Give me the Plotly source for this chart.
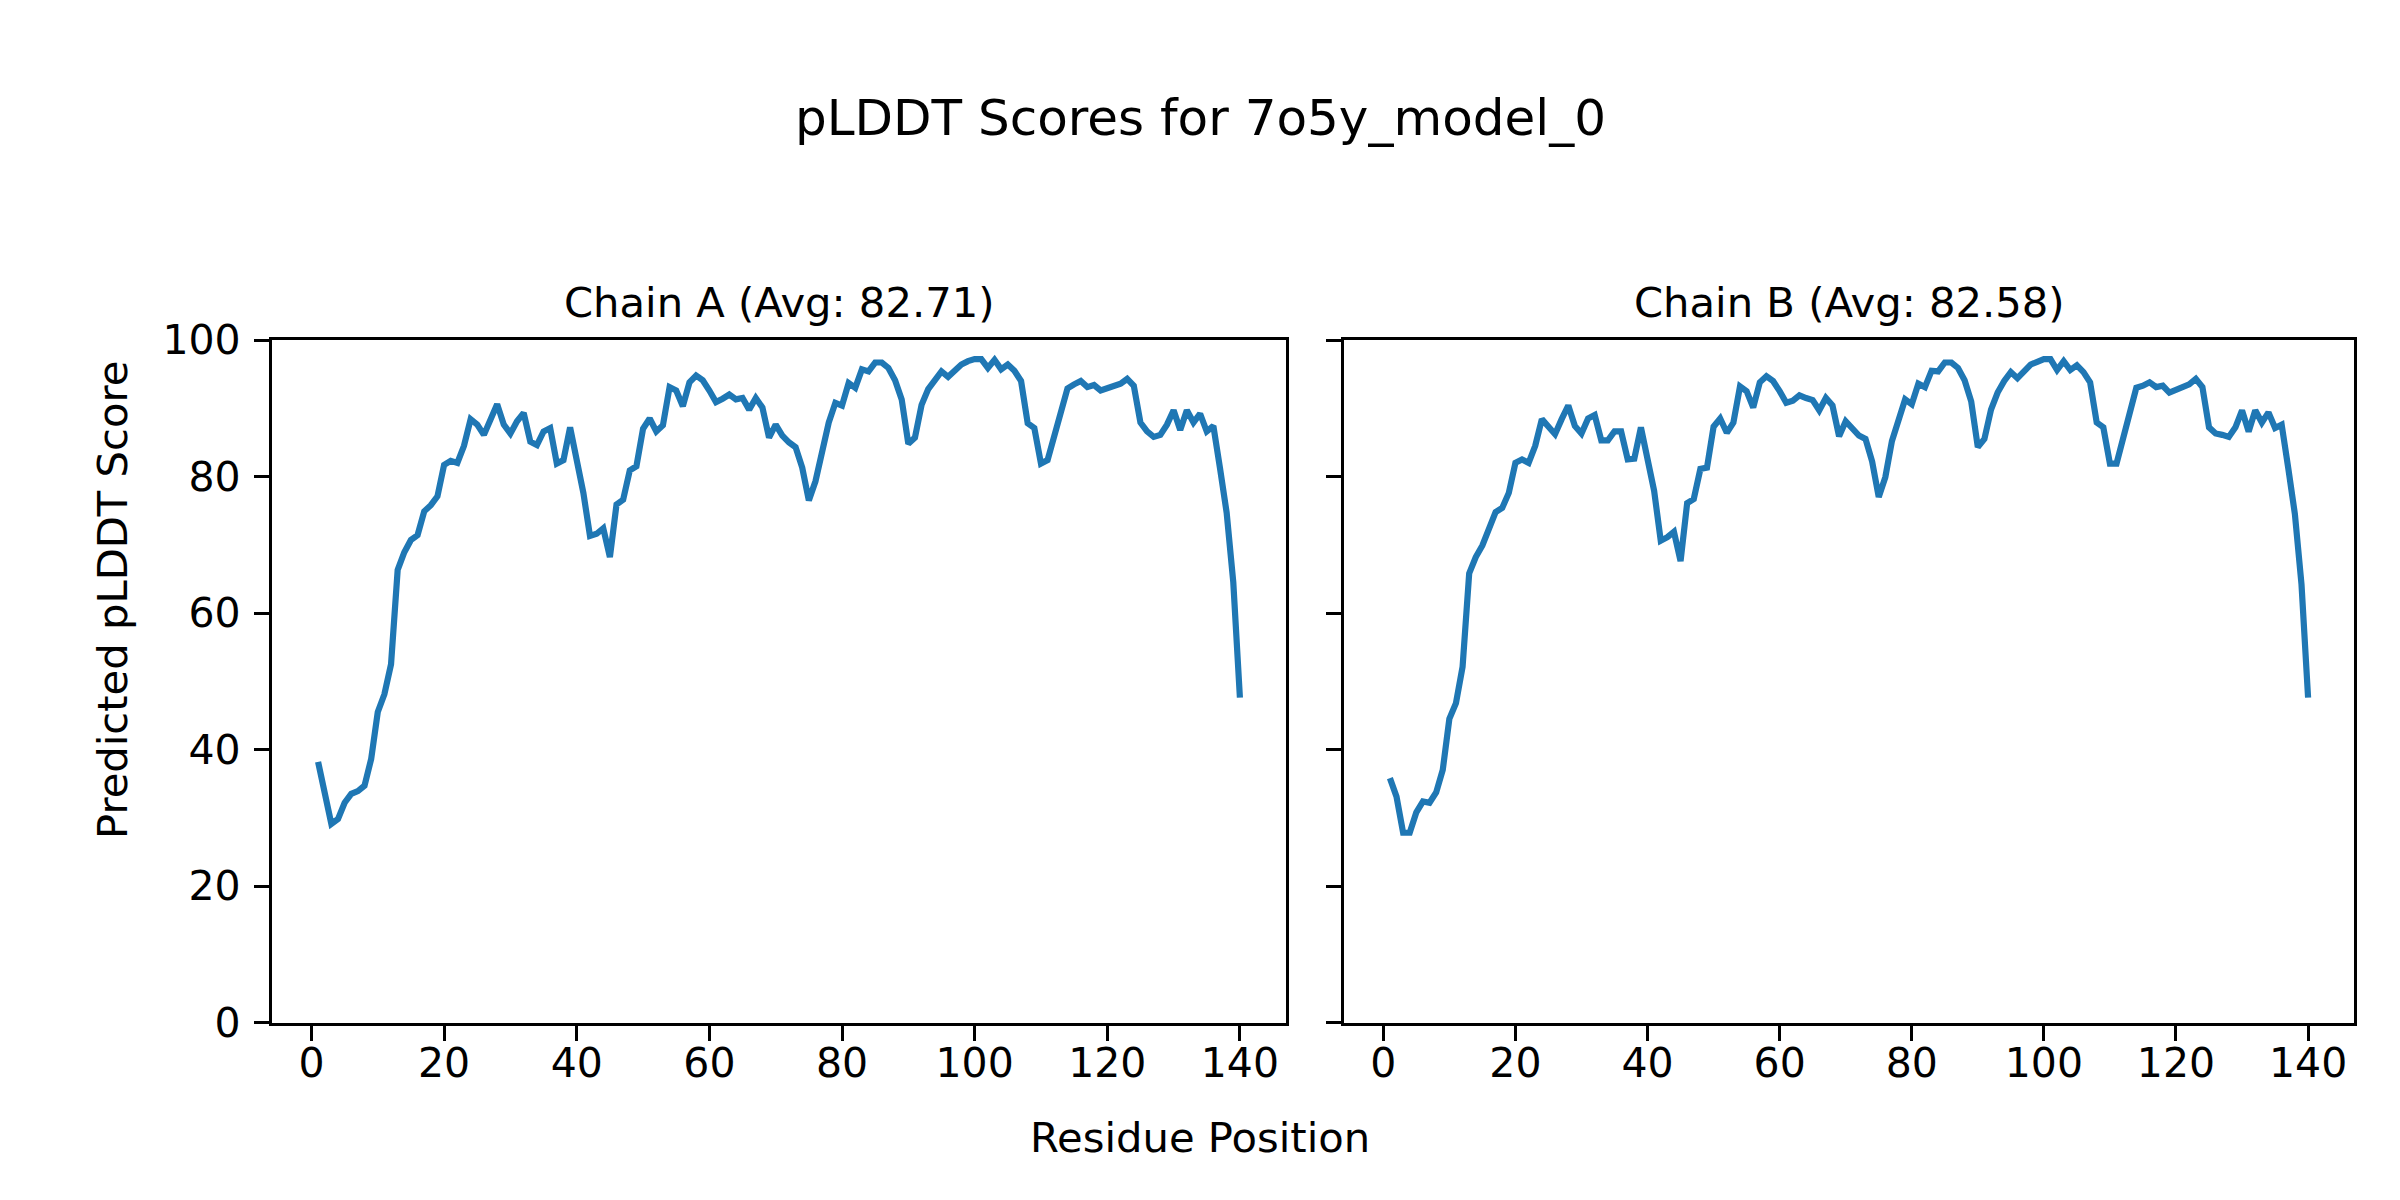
import plotly.graph_objects as go

residues = list(range(1, 141))

chain_a = [38.2, 34.0, 29.1, 29.8, 32.2, 33.5, 33.9, 34.7, 38.6, 45.5,
           48.1, 52.5, 66.3, 68.9, 70.7, 71.4, 74.9, 75.8, 77.1, 81.7,
           82.3, 82.0, 84.5, 88.4, 87.6, 86.1, 88.4, 90.6, 87.6, 86.3,
           88.1, 89.3, 85.1, 84.6, 86.6, 87.1, 81.9, 82.4, 87.2, 82.5,
           77.6, 71.3, 71.6, 72.4, 68.2, 75.9, 76.6, 80.9, 81.5, 87.0,
           88.5, 86.6, 87.5, 93.1, 92.6, 90.3, 93.8, 94.8, 94.1, 92.6,
           90.9, 91.4, 92.0, 91.3, 91.5, 89.8, 91.5, 90.1, 85.7, 87.6,
           86.0, 85.0, 84.3, 81.3, 76.5, 79.3, 83.9, 87.9, 90.8, 90.4,
           93.7, 93.0, 95.7, 95.4, 96.7, 96.7, 95.9, 94.1, 91.3, 84.8,
           85.7, 90.5, 92.8, 94.1, 95.4, 94.6, 95.5, 96.4, 96.9, 97.2,
           97.2, 95.9, 97.1, 95.7, 96.4, 95.5, 94.0, 87.8, 87.1, 81.9,
           82.4, 85.9, 89.6, 92.9, 93.5, 94.0, 93.1, 93.4, 92.6, 93.0,
           93.3, 93.6, 94.3, 93.3, 87.9, 86.6, 85.8, 86.1, 87.6, 89.7,
           86.8, 89.7, 87.9, 89.2, 86.6, 87.4, 81.2, 74.7, 64.5, 47.6]

chain_b = [35.8, 33.1, 27.8, 27.8, 30.8, 32.4, 32.2, 33.7, 37.0, 44.5,
           46.8, 52.1, 65.8, 68.2, 69.9, 72.2, 74.8, 75.4, 77.6, 82.0,
           82.5, 82.0, 84.5, 88.4, 87.3, 86.2, 88.4, 90.4, 87.4, 86.3,
           88.5, 89.0, 85.3, 85.3, 86.6, 86.6, 82.5, 82.6, 87.2, 82.5,
           77.9, 70.6, 71.1, 71.9, 67.6, 76.1, 76.7, 81.1, 81.3, 87.3,
           88.5, 86.4, 87.9, 93.2, 92.5, 90.1, 93.8, 94.7, 94.0, 92.5,
           90.8, 91.1, 91.9, 91.5, 91.2, 89.7, 91.5, 90.4, 85.9, 88.1,
           86.9, 86.0, 85.5, 82.2, 77.0, 79.9, 85.2, 88.1, 91.3, 90.6,
           93.6, 93.1, 95.5, 95.4, 96.7, 96.7, 95.9, 94.1, 91.0, 84.3,
           85.5, 89.8, 92.3, 94.0, 95.3, 94.4, 95.3, 96.4, 96.8, 97.2,
           97.2, 95.6, 96.9, 95.6, 96.3, 95.3, 93.8, 87.9, 87.2, 81.9,
           81.9, 85.5, 89.2, 93.0, 93.3, 93.8, 93.1, 93.3, 92.3, 92.7,
           93.1, 93.5, 94.3, 93.1, 87.2, 86.3, 86.1, 85.8, 87.2, 89.7,
           86.6, 89.7, 87.9, 89.4, 87.1, 87.6, 81.2, 74.5, 64.2, 47.6]

x_ticks = [0, 20, 40, 60, 80, 100, 120, 140]
y_ticks = [0, 20, 40, 60, 80, 100]

title_text = "pLDDT Scores for 7o5y_model_0"
subtitle_a = "Chain A (Avg: 82.71)"
subtitle_b = "Chain B (Avg: 82.58)"
x_label = "Residue Position"
y_label = "Predicted pLDDT Score"

W, H = 2400, 1200
FONT = "DejaVu Sans"
LINE_COLOR = "#1f77b4"

fig = go.Figure()
fig.add_trace(go.Scatter(x=residues, y=chain_a, mode="lines",
                         line=dict(color=LINE_COLOR, width=6.2),
                         xaxis="x", yaxis="y", showlegend=False))
fig.add_trace(go.Scatter(x=residues, y=chain_b, mode="lines",
                         line=dict(color=LINE_COLOR, width=6.2),
                         xaxis="x2", yaxis="y2", showlegend=False))

ax_common = dict(showline=True, linecolor="black", linewidth=3.3, mirror=True,
                 ticks="outside", ticklen=15, tickwidth=3.3, tickcolor="black",
                 showgrid=False, zeroline=False, automargin=False,
                 tickfont=dict(family=FONT, size=41, color="black"))

y_dom = [1 - 1022.5 / H, 1 - 340 / H]
xa_dom = [272 / W, 1286 / W]
xb_dom = [1344 / W, 2354 / W]
x_range = [-5.95, 146.95]

fig.update_layout(
    width=W, height=H, autosize=False,
    margin=dict(l=0, r=0, t=0, b=0, pad=0),
    paper_bgcolor="white", plot_bgcolor="white",
    font=dict(family=FONT, color="black"),
    xaxis=dict(domain=xa_dom, range=x_range, tickvals=x_ticks, anchor="y",
               ticklabelstandoff=-13, **ax_common),
    yaxis=dict(domain=y_dom, range=[0, 100], tickvals=y_ticks, anchor="x",
               ticklabelstandoff=5, **ax_common),
    xaxis2=dict(domain=xb_dom, range=x_range, tickvals=x_ticks, anchor="y2",
                ticklabelstandoff=-13, **ax_common),
    yaxis2=dict(domain=y_dom, range=[0, 100], tickvals=y_ticks, anchor="x2",
                showticklabels=False, **ax_common),
)

ann_font = dict(family=FONT, size=41.7, color="black")
fig.add_annotation(text=title_text, x=0.5, y=1 - 118 / H, xref="paper", yref="paper",
                   xanchor="center", yanchor="middle", showarrow=False,
                   font=dict(family=FONT, size=50, color="black"))
fig.add_annotation(text=subtitle_a, x=(xa_dom[0] + xa_dom[1]) / 2, y=1 - 302 / H,
                   xref="paper", yref="paper", xanchor="center", yanchor="middle",
                   showarrow=False, font=ann_font)
fig.add_annotation(text=subtitle_b, x=(xb_dom[0] + xb_dom[1]) / 2, y=1 - 302 / H,
                   xref="paper", yref="paper", xanchor="center", yanchor="middle",
                   showarrow=False, font=ann_font)
fig.add_annotation(text=x_label, x=0.5, y=1 - 1137 / H, xref="paper", yref="paper",
                   xanchor="center", yanchor="middle", showarrow=False, font=ann_font)
fig.add_annotation(text=y_label, x=112 / W, y=0.5, xref="paper", yref="paper",
                   xanchor="center", yanchor="middle", textangle=-90,
                   showarrow=False, font=ann_font)

fig.write_html("out.html",
               config={"displayModeBar": False},
               post_script="document.body.style.margin='0px';"
                           "document.body.style.overflow='hidden';")
